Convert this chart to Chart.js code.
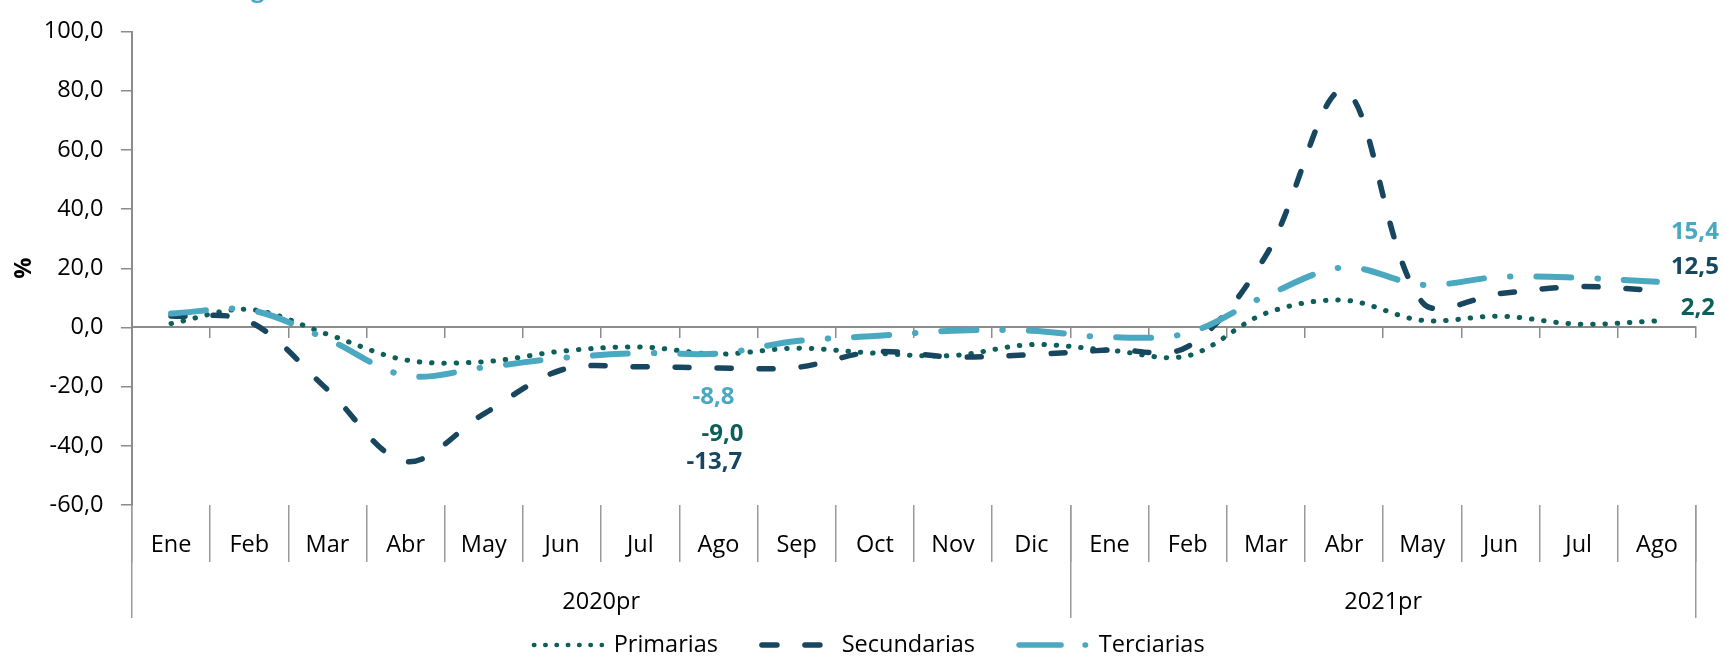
<!DOCTYPE html>
<html lang="es">
<head>
<meta charset="UTF-8">
<title>Variación anual por grandes ramas de actividad</title>
<script src="https://cdn.jsdelivr.net/npm/chart.js"></script>
<style>
  body {
    margin: 0;
    padding: 0;
    background-color: #ffffff;
  }
  .chart-box {
    width: 1725px;
    height: 656px;
  }
</style>
</head>
<body>
<div class="chart-box">
  <canvas id="sectorChart" width="1725" height="656"></canvas>
</div>

<script>
// --- data ---
const months = ['Ene', 'Feb', 'Mar', 'Abr', 'May', 'Jun', 'Jul', 'Ago', 'Sep', 'Oct', 'Nov', 'Dic',
                'Ene', 'Feb', 'Mar', 'Abr', 'May', 'Jun', 'Jul', 'Ago'];
const years = ['2020pr', '2021pr'];
const yearSpans = [12, 8];

const primarias   = [1.3, 6.1, -2.3, -11.0, -11.6, -8.0, -6.6, -9.0, -7.0, -8.7, -9.5, -5.8,
                     -7.7, -9.6, 4.8, 9.2, 2.4, 3.8, 1.1, 2.2];
const secundarias = [3.9, 2.0, -21.0, -45.3, -29.2, -14.3, -13.3, -13.7, -13.5, -8.2, -10.0, -9.2,
                     -7.6, -6.5, 24.3, 80.0, 8.5, 11.5, 13.8, 12.5];
const terciarias  = [4.7, 5.9, -4.0, -16.3, -13.5, -10.3, -8.7, -8.8, -4.6, -2.9, -1.1, -1.1,
                     -3.3, -1.9, 10.7, 20.3, 14.4, 17.1, 16.8, 15.4];

const yMin = -60;
const yMax = 100;
const yStep = 20;

// --- styles ---
const green = '#0d5f5b';
const navy = '#174660';
const teal = '#4aa8c0';
const axisGray = '#8c8c8c';
const sepGray = '#9a9a9a';

// year row: edges and centres on a 0..20 axis
const yearEdges = [0];
yearSpans.forEach(s => yearEdges.push(yearEdges[yearEdges.length - 1] + s));
const yearCenters = yearSpans.map((s, i) => yearEdges[i] + s / 2);

function fmt(v) {
    return Number(v).toFixed(1).replace('.', ',');
}

// legend line styles
const legendStyles = [
    { width: 4.5, dash: [0.5, 10.8] },
    { width: 5.5, dash: [15, 28] },
    { width: 5.5, dash: [42, 24, 0.5, 40] }
];

// value labels (which series / point, and offset from the point)
const valueLabels = [
    { set: 2, at: 7, dx: -5, dy: 44 },
    { set: 0, at: 7, dx: 4, dy: 80 },
    { set: 1, at: 7, dx: -4, dy: 94 },
    { set: 2, at: 19, dx: 38, dy: -50 },
    { set: 1, at: 19, dx: 38, dy: -23 },
    { set: 0, at: 19, dx: 41, dy: -13 }
];

const labelPlugin = {
    id: 'valueLabels',
    afterDatasetsDraw(chart) {
        const c = chart.ctx;
        c.save();
        c.font = 'bold 24px "Open Sans"';
        c.textAlign = 'center';
        c.textBaseline = 'middle';
        valueLabels.forEach(l => {
            const ds = chart.data.datasets[l.set];
            const pt = chart.getDatasetMeta(l.set).data[l.at];
            c.fillStyle = ds.borderColor;
            c.fillText(fmt(ds.data[l.at]), pt.x + l.dx, pt.y + l.dy);
        });
        // bit of the title that sits above the picture
        c.fillStyle = teal;
        c.textAlign = 'left';
        c.textBaseline = 'alphabetic';
        c.fillText('g', 251, -3);
        c.restore();
    }
};

Chart.defaults.font.family = "'Open Sans', sans-serif";
Chart.defaults.font.size = 23.5;
Chart.defaults.color = '#000';

const ctx = document.getElementById('sectorChart').getContext('2d');
new Chart(ctx, {
    type: 'line',
    data: {
        labels: months,
        datasets: [
            {
                label: 'Primarias', data: primarias, order: 3,
                borderColor: green, borderWidth: 5, borderDash: [0.5, 11.8]
            },
            {
                label: 'Secundarias', data: secundarias, order: 2,
                borderColor: navy, borderWidth: 5.5, borderDash: [14, 28]
            },
            {
                label: 'Terciarias', data: terciarias, order: 1,
                borderColor: teal, borderWidth: 6, borderDash: [35, 26, 0.5, 26]
            }
        ]
    },
    options: {
        responsive: false,
        animation: false,
        devicePixelRatio: 1,
        datasets: {
            line: {
                pointRadius: 0,
                tension: 0.34,
                fill: false,
                borderCapStyle: 'round',
                borderJoinStyle: 'round'
            }
        },
        layout: {
            padding: { top: 22, left: 42.5, right: 29, bottom: -10.75 }
        },
        plugins: {
            tooltip: { enabled: false },
            legend: {
                position: 'bottom',
                // empty title only used to push the legend row down below the axis labels
                title: { display: true, text: '', font: { size: 1, lineHeight: 1 }, padding: { top: 83.25, bottom: 0 } },
                labels: {
                    usePointStyle: true,
                    pointStyleWidth: 68,
                    padding: 44,
                    color: '#000',
                    font: { size: 23.5 },
                    generateLabels: chart => chart.data.datasets.map((ds, i) => ({
                        text: ds.label,
                        datasetIndex: i,
                        hidden: false,
                        fillStyle: 'rgba(0,0,0,0)',
                        strokeStyle: ds.borderColor,
                        lineWidth: legendStyles[i].width,
                        lineDash: legendStyles[i].dash,
                        lineCap: 'round',
                        pointStyle: 'line',
                        rotation: 180,
                        fontColor: '#000'
                    }))
                }
            }
        },
        scales: {
            // month labels + month separators, hung under the bottom of the plot
            x: {
                type: 'category',
                axis: 'x',
                position: { y: yMin },
                offset: true,
                grid: { offset: true, drawOnChartArea: false, tickLength: 57, color: sepGray, lineWidth: 1.5 },
                border: { display: false },
                ticks: { autoSkip: false, maxRotation: 0, padding: -31.1, color: '#000' }
            },
            // year labels + long separators
            years: {
                type: 'linear',
                axis: 'x',
                position: { y: yMin },
                min: 0,
                max: yearEdges[yearEdges.length - 1],
                afterBuildTicks: scale => {
                    scale.ticks = yearEdges.concat(yearCenters).sort((a, b) => a - b).map(v => ({ value: v }));
                },
                grid: {
                    drawOnChartArea: false,
                    tickLength: 113,
                    lineWidth: 1.5,
                    color: c => (c.tick && yearEdges.includes(c.tick.value)) ? sepGray : 'rgba(0,0,0,0)'
                },
                border: { display: false },
                ticks: {
                    autoSkip: false,
                    maxRotation: 0,
                    padding: -30.1,
                    color: '#000',
                    callback: v => {
                        const k = yearCenters.indexOf(v);
                        return k >= 0 ? years[k] : '';
                    }
                }
            },
            // horizontal axis line at 0 with short ticks
            zero: {
                type: 'category',
                axis: 'x',
                position: { y: 0 },
                offset: true,
                grid: { offset: true, drawOnChartArea: false, tickLength: 10, color: axisGray, lineWidth: 1.5 },
                border: { display: true, color: axisGray, width: 2 },
                ticks: { display: false }
            },
            y: {
                axis: 'y',
                min: yMin,
                max: yMax,
                grid: { drawOnChartArea: false, tickLength: 11, color: axisGray, lineWidth: 1.5 },
                border: { display: true, color: axisGray, width: 2 },
                ticks: { stepSize: yStep, padding: 17.4, color: '#000', callback: v => fmt(v) },
                title: {
                    display: true,
                    text: '%',
                    color: '#000',
                    font: { weight: 'bold', size: 23.5 },
                    padding: { top: -32.1, bottom: -12.3 }
                }
            }
        }
    },
    plugins: [labelPlugin]
});
</script>
</body>
</html>
